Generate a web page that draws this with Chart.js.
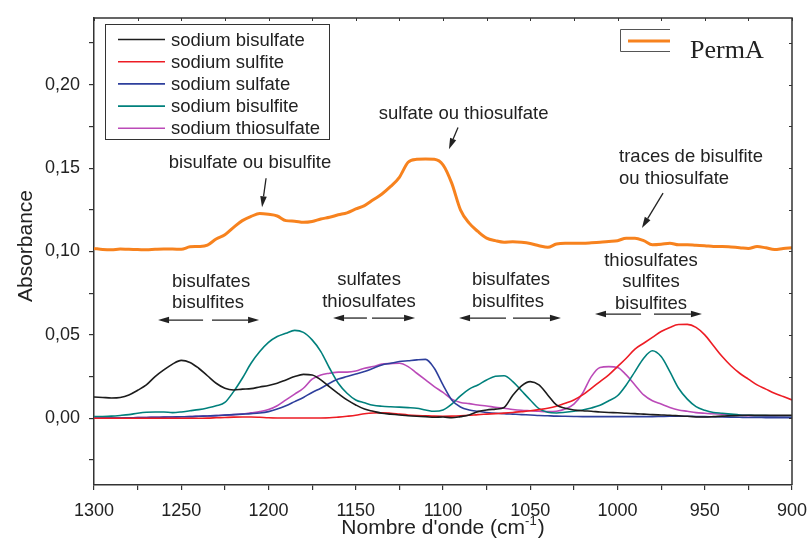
<!DOCTYPE html>
<html>
<head>
<meta charset="utf-8">
<script src="https://cdn.jsdelivr.net/npm/chart.js@4.4.0/dist/chart.umd.min.js"></script>
<style>
  html, body { margin: 0; padding: 0; background: #fff; }
</style>
</head>
<body>
<canvas id="spectra" width="808" height="547"></canvas>
<script>
// wavenumbers, cm-1 (x axis runs 1300 -> 900)
const wavenumbers = [
  1300, 1295, 1290, 1285, 1280, 1275, 1270, 1265, 1260, 1255,
  1250, 1245, 1240, 1235, 1230, 1225, 1220, 1215, 1210, 1205,
  1200, 1195, 1190, 1185, 1180, 1175, 1170, 1165, 1160, 1155,
  1150, 1145, 1140, 1135, 1130, 1125, 1120, 1115, 1110, 1105,
  1100, 1095, 1090, 1085, 1080, 1075, 1070, 1065, 1060, 1055,
  1050, 1045, 1040, 1035, 1030, 1025, 1020, 1015, 1010, 1005,
  1000, 995, 990, 985, 980, 975, 970, 965, 960, 955,
  950, 945, 940, 935, 930, 925, 920, 915, 910, 905,
  900
];

const sodiumBisulfate = [
  .0128, .0125, .0122, .0125, .0140, .0168, .0200, .0250, .0290, .0325,
  .0347, .0335, .0300, .0255, .0210, .0180, .0170, .0175, .0178, .0188,
  .0197, .0210, .0230, .0250, .0263, .0260, .0230, .0188, .0148, .0110,
  .0080, .0055, .0042, .0030, .0025, .0020, .0015, .0012, .0010, .0006,
  .0008, .0003, .0010, .0020, .0040, .0050, .0055, .0065, .0138, .0195,
  .0220, .0200, .0140, .0080, .0060, .0050, .0045, .0042, .0038, .0035,
  .0033, .0030, .0028, .0025, .0022, .0020, .0018, .0015, .0012, .0008,
  .0008, .0010, .0013, .0015, .0017, .0018, .0018, .0018, .0018, .0018,
  .0018
];

const sodiumSulfite = [
  0, 0, 0, 0, 0, 0, 0, 0, 0, 0,
  0, 0, 0, .0001, .0003, .0005, .0007, .0008, .0008, .0006,
  .0003, .0002, .0002, .0002, .0002, .0002, .0002, .0003, .0007, .0012,
  .0018, .0027, .0032, .0033, .0030, .0025, .0020, .0017, .0015, .0013,
  .0012, .0013, .0015, .0018, .0022, .0025, .0028, .0031, .0035, .0040,
  .0045, .0052, .0060, .0072, .0090, .0110, .0140, .0180, .0220, .0260,
  .0310, .0360, .0415, .0450, .0485, .0520, .0545, .0562, .0563, .0545,
  .0500, .0435, .0370, .0315, .0270, .0235, .0200, .0175, .0150, .0130,
  .0110
];

const sodiumSulfate = [
  0, .0001, .0002, .0002, .0003, .0004, .0005, .0006, .0007, .0008,
  .0009, .0010, .0012, .0014, .0016, .0019, .0022, .0025, .0028, .0032,
  .0040, .0055, .0075, .0100, .0125, .0155, .0180, .0210, .0235, .0250,
  .0265, .0280, .0300, .0320, .0330, .0340, .0345, .0350, .0353, .0300,
  .0200, .0110, .0068, .0050, .0042, .0035, .0030, .0028, .0025, .0022,
  .0020, .0017, .0015, .0013, .0012, .0011, .0010, .0010, .0010, .0010,
  .0010, .0010, .0010, .0010, .0010, .0011, .0012, .0012, .0012, .0011,
  .0010, .0009, .0008, .0007, .0006, .0005, .0005, .0004, .0004, .0003,
  .0003
];

const sodiumBisulfite = [
  .0010, .0011, .0013, .0017, .0022, .0030, .0036, .0038, .0038, .0034,
  .0038, .0045, .0052, .0062, .0075, .0095, .0160, .0240, .0330, .0400,
  .0455, .0490, .0510, .0527, .0515, .0470, .0400, .0300, .0210, .0150,
  .0110, .0093, .0078, .0072, .0069, .0067, .0064, .0060, .0050, .0042,
  .0050, .0085, .0135, .0175, .0200, .0230, .0252, .0255, .0220, .0165,
  .0110, .0058, .0036, .0032, .0036, .0042, .0050, .0062, .0078, .0105,
  .0135, .0200, .0280, .0360, .0405, .0370, .0280, .0180, .0115, .0070,
  .0048, .0035, .0030, .0025, .0020, .0018, .0016, .0016, .0015, .0015,
  .0015
];

const sodiumThiosulfate = [
  0, .0001, .0002, .0002, .0003, .0004, .0005, .0006, .0007, .0008,
  .0009, .0010, .0012, .0014, .0016, .0019, .0022, .0026, .0033, .0040,
  .0052, .0075, .0110, .0145, .0180, .0235, .0260, .0270, .0277, .0277,
  .0283, .0300, .0310, .0325, .0328, .0330, .0310, .0270, .0230, .0190,
  .0155, .0115, .0095, .0088, .0080, .0074, .0066, .0060, .0053, .0048,
  .0045, .0042, .0040, .0042, .0055, .0085, .0150, .0250, .0305, .0310,
  .0305, .0260, .0200, .0140, .0105, .0085, .0065, .0050, .0042, .0034,
  .0030, .0027, .0024, .0021, .0019, .0016, .0014, .0012, .0010, .0009,
  .0008
];

const permA = [
  .1018, .1012, .1010, .1015, .1013, .1012, .1010, .1013, .1015, .1015,
  .1013, .1028, .1030, .1038, .1075, .1100, .1145, .1185, .1210, .1228,
  .1223, .1213, .1185, .1182, .1175, .1180, .1195, .1205, .1220, .1232,
  .1255, .1275, .1310, .1345, .1390, .1445, .1535, .1553, .1555, .1553,
  .1520, .1410, .1250, .1170, .1120, .1080, .1065, .1056, .1058, .1055,
  .1048, .1035, .1025, .1045, .1050, .1050, .1050, .1052, .1055, .1060,
  .1065, .1080, .1080, .1065, .1040, .1043, .1050, .1040, .1040, .1037,
  .1035, .1030, .1030, .1027, .1023, .1018, .1030, .1022, .1012, .1018,
  .1023
];

const seriesNames = ['sodium bisulfate', 'sodium sulfite', 'sodium sulfate', 'sodium bisulfite', 'sodium thiosulfate'];
const seriesValues = [sodiumBisulfate, sodiumSulfite, sodiumSulfate, sodiumBisulfite, sodiumThiosulfate];
const seriesColors = ['#1c1c1c', '#ed1c24', '#2e3f9c', '#00807c', '#bb4ab8'];

// axis ticks (labels only on the 0.05 / 50 steps)
const xTickValues = [1300, 1275, 1250, 1225, 1200, 1175, 1150, 1125, 1100, 1075, 1050, 1025, 1000, 975, 950, 925, 900];
const yTickValues = [-0.025, 0, 0.025, 0.05, 0.075, 0.10, 0.125, 0.15, 0.175, 0.20, 0.225];

// text notes in data coordinates (wavenumber, absorbance)
const notes = [
  { lines: ['bisulfate ou bisulfite'], x: 1210.6, y: 0.1529, align: 'center' },
  { lines: ['sulfate ou thiosulfate'], x: 1088.2, y: 0.1826, align: 'center' },
  { lines: ['traces de bisulfite', 'ou thiosulfate'], x: 999.1, y: 0.1567, align: 'left' },
  { lines: ['bisulfates', 'bisulfites'], x: 1255.3, y: 0.0819, align: 'left' },
  { lines: ['sulfates', 'thiosulfates'], x: 1142.4, y: 0.0829, align: 'center' },
  { lines: ['bisulfates', 'bisulfites'], x: 1083.4, y: 0.0829, align: 'left' },
  { lines: ['thiosulfates', 'sulfites', 'bisulfites'], x: 980.8, y: 0.0945, align: 'center' }
];

// arrows: [fromX, fromY, toX, toY] in data coordinates, head at "to"
const arrows = [
  [1201.4, 0.1439, 1203.7, 0.1265],
  [1091.4, 0.1744, 1096.6, 0.1613],
  [973.9, 0.1350, 986.0, 0.1141],
  [1237.5, 0.0589, 1263.3, 0.0589], [1232.4, 0.0589, 1205.4, 0.0589],
  [1143.6, 0.0601, 1163.0, 0.0601], [1140.7, 0.0601, 1116.0, 0.0601],
  [1063.9, 0.0601, 1090.8, 0.0601], [1059.9, 0.0601, 1032.4, 0.0601],
  [986.5, 0.0625, 1012.9, 0.0625], [979.1, 0.0625, 951.6, 0.0625]
];

const SANS = '"Liberation Sans", Arial, sans-serif';
const INK = '#222';

function toPoints(values) {
  return wavenumbers.map((w, i) => ({ x: w, y: values[i] }));
}

const datasets = seriesNames.map((name, i) => ({
  label: name,
  data: toPoints(seriesValues[i]),
  borderColor: seriesColors[i],
  borderWidth: 1.6,
  pointRadius: 0,
  cubicInterpolationMode: 'monotone',
  fill: false
}));
datasets.push({
  label: 'PermA',
  data: toPoints(permA),
  borderColor: '#f7821e',
  borderWidth: 3,
  pointRadius: 0,
  cubicInterpolationMode: 'monotone',
  fill: false
});

function drawArrow(ctx, x1, y1, x2, y2) {
  const ang = Math.atan2(y2 - y1, x2 - x1);
  const len = 11, half = 3.3;
  const bx = x2 - len * Math.cos(ang), by = y2 - len * Math.sin(ang);
  ctx.beginPath();
  ctx.moveTo(x1, y1);
  ctx.lineTo(bx, by);
  ctx.stroke();
  ctx.beginPath();
  ctx.moveTo(x2, y2);
  ctx.lineTo(bx + half * Math.sin(ang), by - half * Math.cos(ang));
  ctx.lineTo(bx - half * Math.sin(ang), by + half * Math.cos(ang));
  ctx.closePath();
  ctx.fill();
}

const decorations = {
  id: 'decorations',
  afterDraw(chart) {
    const ctx = chart.ctx;
    const area = chart.chartArea;
    const xs = chart.scales.x, ys = chart.scales.y;
    ctx.save();

    // top and right frame + small inner ticks
    ctx.strokeStyle = '#333';
    ctx.lineWidth = 1.5;
    ctx.beginPath();
    ctx.moveTo(area.left, area.top);
    ctx.lineTo(area.right, area.top);
    ctx.lineTo(area.right, area.bottom);
    ctx.stroke();
    ctx.lineWidth = 1;
    ctx.beginPath();
    xTickValues.forEach(v => {
      const px = Math.round(xs.getPixelForValue(v)) + 0.5;
      ctx.moveTo(px, area.top);
      ctx.lineTo(px, area.top + 3);
    });
    yTickValues.forEach(v => {
      const py = Math.round(ys.getPixelForValue(v)) + 0.5;
      ctx.moveTo(area.right, py);
      ctx.lineTo(area.right - 3, py);
    });
    ctx.stroke();

    // axis titles
    ctx.fillStyle = INK;
    ctx.font = '21px ' + SANS;
    ctx.textBaseline = 'alphabetic';
    const main = "Nombre d'onde (cm";
    const sup = '-1';
    const close = ')';
    const wMain = ctx.measureText(main).width;
    const wClose = ctx.measureText(close).width;
    ctx.font = '13px ' + SANS;
    const wSup = ctx.measureText(sup).width;
    const total = wMain + wSup + 1 + wClose;
    let tx = (area.left + area.right) / 2 - total / 2;
    const base = 534;
    ctx.font = '21px ' + SANS;
    ctx.textAlign = 'left';
    ctx.fillText(main, tx, base);
    ctx.font = '13px ' + SANS;
    ctx.fillText(sup, tx + wMain, base - 9);
    ctx.font = '21px ' + SANS;
    ctx.fillText(close, tx + wMain + wSup + 1, base);

    ctx.save();
    ctx.translate(32, 246);
    ctx.rotate(-Math.PI / 2);
    ctx.textAlign = 'center';
    ctx.fillText('Absorbance', 0, 0);
    ctx.restore();

    // main legend
    ctx.strokeStyle = '#333';
    ctx.lineWidth = 1;
    ctx.strokeRect(105.5, 24.5, 224, 115);
    ctx.font = '18.5px ' + SANS;
    ctx.textAlign = 'left';
    ctx.textBaseline = 'middle';
    for (let i = 0; i < seriesNames.length; i++) {
      const ds = chart.data.datasets[i];
      const y = 39.5 + i * 22.2;
      ctx.strokeStyle = ds.borderColor;
      ctx.lineWidth = 1.6;
      ctx.beginPath();
      ctx.moveTo(118, y);
      ctx.lineTo(165, y);
      ctx.stroke();
      ctx.fillStyle = INK;
      ctx.fillText(ds.label, 171, y + 1);
    }

    // PermA legend
    const pa = chart.data.datasets[seriesNames.length];
    ctx.strokeStyle = '#555';
    ctx.lineWidth = 1;
    ctx.beginPath();
    ctx.moveTo(670, 29.5);
    ctx.lineTo(620.5, 29.5);
    ctx.lineTo(620.5, 51.5);
    ctx.lineTo(670, 51.5);
    ctx.stroke();
    ctx.strokeStyle = pa.borderColor;
    ctx.lineWidth = 3;
    ctx.beginPath();
    ctx.moveTo(628, 41);
    ctx.lineTo(670, 41);
    ctx.stroke();
    ctx.fillStyle = INK;
    ctx.font = '26px "Liberation Serif", "Times New Roman", serif';
    ctx.textBaseline = 'alphabetic';
    ctx.fillText(pa.label, 690, 58);

    // notes
    ctx.font = '18.5px ' + SANS;
    ctx.textBaseline = 'middle';
    ctx.fillStyle = INK;
    notes.forEach(n => {
      const px = xs.getPixelForValue(n.x);
      const py = ys.getPixelForValue(n.y);
      ctx.textAlign = n.align;
      n.lines.forEach((t, k) => ctx.fillText(t, px, py + k * 21.6));
    });

    // arrows
    ctx.strokeStyle = INK;
    ctx.fillStyle = INK;
    ctx.lineWidth = 1.3;
    arrows.forEach(a => {
      drawArrow(ctx,
        xs.getPixelForValue(a[0]), ys.getPixelForValue(a[1]),
        xs.getPixelForValue(a[2]), ys.getPixelForValue(a[3]));
    });

    ctx.restore();
  }
};

const chart = new Chart(document.getElementById('spectra').getContext('2d'), {
  type: 'line',
  data: { datasets: datasets },
  options: {
    responsive: false,
    animation: false,
    devicePixelRatio: 1,
    layout: { padding: { top: 18, right: 16, left: 0, bottom: 0 } },
    plugins: {
      legend: { display: false },
      tooltip: { enabled: false }
    },
    scales: {
      x: {
        type: 'linear',
        reverse: true,
        min: 900,
        max: 1300,
        afterBuildTicks: s => { s.ticks = xTickValues.map(v => ({ value: v })); },
        afterFit: s => { s.height = 62; s.paddingLeft = 0; s.paddingRight = 0; },
        grid: { drawOnChartArea: false, drawTicks: true, tickLength: 5, color: '#333', lineWidth: 1.2 },
        border: { display: true, color: '#333', width: 1.5 },
        ticks: {
          autoSkip: false,
          maxRotation: 0,
          padding: 10,
          color: INK,
          font: { family: SANS, size: 18 },
          callback: v => (v % 50 === 0 ? String(v) : '')
        }
      },
      y: {
        type: 'linear',
        min: -0.04,
        max: 0.24,
        afterBuildTicks: s => { s.ticks = yTickValues.map(v => ({ value: v })); },
        afterFit: s => { s.width = 94; s.paddingTop = 0; s.paddingBottom = 0; },
        grid: { drawOnChartArea: false, drawTicks: true, tickLength: 5, color: '#333', lineWidth: 1.2 },
        border: { display: true, color: '#333', width: 1.5 },
        ticks: {
          autoSkip: false,
          padding: 9,
          color: INK,
          font: { family: SANS, size: 18 },
          callback: v => {
            const m = Math.round(v * 1000);
            return (m >= 0 && m % 50 === 0) ? (m / 1000).toFixed(2).replace('.', ',') : '';
          }
        }
      }
    }
  },
  plugins: [decorations]
});
</script>
</body>
</html>
